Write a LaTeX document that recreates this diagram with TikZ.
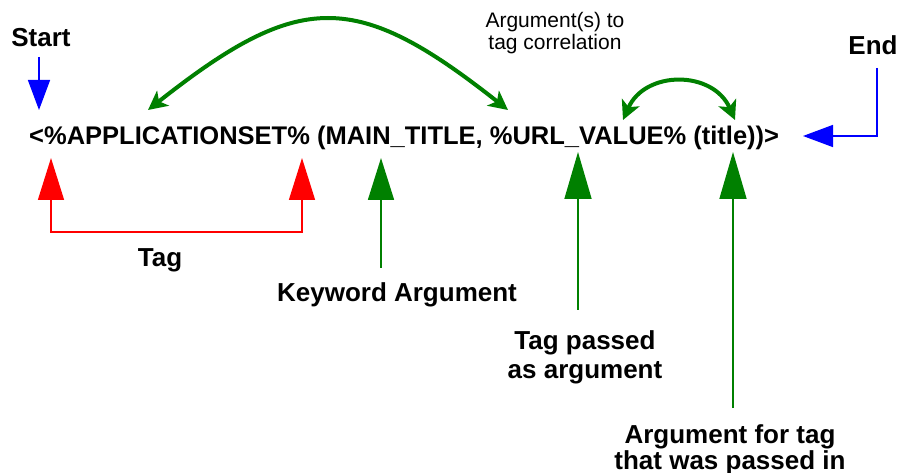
\documentclass[tikz,border=0pt]{standalone}
\usepackage{fontspec}
\setmainfont{Liberation Sans}
\usetikzlibrary{arrows.meta}
\definecolor{dgreen}{RGB}{0,128,0}
\definecolor{pred}{RGB}{255,0,0}
\definecolor{pblue}{RGB}{0,0,255}
\tikzset{
  codetext/.style={inner sep=0pt, font=\bfseries\fontsize{25.5}{30}\selectfont},
  lbl/.style={inner sep=0pt, align=center, font=\bfseries\fontsize{26}{27}\selectfont},
  corrlbl/.style={inner sep=0pt, align=center, font=\fontsize{21}{22}\selectfont},
  redc/.style={draw=pred, line width=1.5pt},
  bluec/.style={draw=pblue, line width=1.5pt},
  greenc/.style={draw=dgreen, line width=1.7pt},
  curvec/.style={draw=dgreen, line width=4pt},
  bigtri/.tip={Triangle[length=42pt,width=26pt]},
  gtri/.tip={Triangle[length=47pt,width=27pt]},
  btri/.tip={Triangle[length=30pt,width=22pt]},
  ctip/.tip={Stealth[length=19pt,width=19pt,inset=5pt]},
}
\begin{document}
\begin{tikzpicture}[x=1pt,y=-1pt]
\useasboundingbox (0,0) rectangle (898,473);
% main code line
\node[codetext, anchor=base west] (code) at (29,145) {<\%APPLICATIONSET\% (MAIN\_TITLE, \%URL\_VALUE\% (title))>};
% labels
\node[lbl, anchor=base] (start) at (41,47) {Start};
\node[lbl, anchor=base] (endl) at (873,55) {End};
\node[lbl, anchor=base] (tag) at (160,267) {Tag};
\node[lbl, anchor=base] (kw) at (397,302) {Keyword Argument};
\node[lbl, anchor=base] (tp1) at (585,350) {Tag passed};
\node[lbl, anchor=base] (tp2) at (585,378) {as argument};
\node[lbl, anchor=base] (af1) at (730,443) {Argument for tag};
\node[lbl, anchor=base] (af2) at (730,469) {that was passed in};
\node[corrlbl, anchor=base] (c1) at (555,28) {Argument(s) to};
\node[corrlbl, anchor=base] (c2) at (555,50) {tag correlation};
% anchor points on the code line
\coordinate (startTip) at (39,110);
\coordinate (startTail) at (39,57);
\coordinate (endTip) at (803,136);
\coordinate (endTail) at (877,68);
\coordinate (tagA) at (51,158);
\coordinate (tagB) at (302,158);
\coordinate (tagbar) at (0,232);
\coordinate (kwTip) at (381,158);
\coordinate (kwTail) at (381,268);
\coordinate (urlTip) at (578,152);
\coordinate (urlTail) at (578,310);
\coordinate (ttlTip) at (733,152);
\coordinate (ttlTail) at (733,408);
\coordinate (appTop) at (148,110);
\coordinate (urlTop) at (508,110);
\coordinate (urlTop2) at (623,120);
\coordinate (ttlTop) at (735,120);
% start / end
\draw[bluec, -btri] (startTail) -- (startTip);
\draw[bluec, -btri] (endTail) -- (endTail |- endTip) -- (endTip);
% tag bracket
\draw[redc, bigtri-bigtri] (tagA) -- (tagA |- tagbar) -- (tagB |- tagbar) -- (tagB);
% green pointers
\draw[greenc, -bigtri] (kwTail) -- (kwTip);
\draw[greenc, -gtri] (urlTail) -- (urlTip);
\draw[greenc, -gtri] (ttlTail) -- (ttlTip);
% correlation curves
\draw[curvec, ctip-ctip] (appTop) .. controls (300,-10) and (356,-10) .. (urlTop);
\draw[curvec, ctip-ctip] (urlTop2) .. controls (645,70) and (713,70) .. (ttlTop);
\end{tikzpicture}
\end{document}
